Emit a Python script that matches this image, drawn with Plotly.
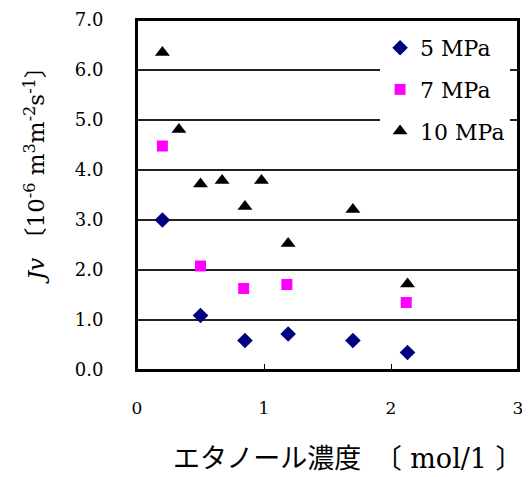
import plotly.graph_objects as go

# Data
x_5mpa = [0.20, 0.50, 0.85, 1.19, 1.70, 2.13]
y_5mpa = [3.00, 1.09, 0.59, 0.72, 0.59, 0.35]

x_7mpa = [0.20, 0.50, 0.84, 1.18, 2.12]
y_7mpa = [4.48, 2.08, 1.63, 1.71, 1.35]

x_10mpa = [0.20, 0.33, 0.50, 0.67, 0.98, 0.85, 1.19, 1.70, 2.13]
y_10mpa = [6.35, 4.81, 3.72, 3.79, 3.79, 3.27, 2.53, 3.21, 1.72]

series_names = ["5 MPa", "7 MPa", "10 MPa"]
x_ticks = [0, 1, 2, 3]
y_ticks = [0, 1, 2, 3, 4, 5, 6, 7]
y_tick_labels = ["0.0", "1.0", "2.0", "3.0", "4.0", "5.0", "6.0", "7.0"]

LATIN = "DejaVu Serif, Noto Sans CJK JP"

fig = go.Figure()
fig.add_trace(go.Scatter(x=x_5mpa, y=y_5mpa, mode="markers", name=series_names[0],
                         legendgroup="a",
                         marker=dict(symbol="diamond", size=12, color="#000080")))
fig.add_trace(go.Scatter(x=x_7mpa, y=y_7mpa, mode="markers", name=series_names[1],
                         legendgroup="b",
                         marker=dict(symbol="square", size=11, color="#FF00FF")))
fig.add_trace(go.Scatter(x=x_10mpa, y=y_10mpa, mode="markers", name=series_names[2],
                         legendgroup="c",
                         marker=dict(symbol="triangle-up", size=13, color="#000000")))

# page body has an 8px default margin: size the figure so it fits the window
fig.update_layout(
    width=522, height=469,
    margin=dict(l=129, r=12, t=12, b=107),
    plot_bgcolor="white", paper_bgcolor="white",
    font=dict(family=LATIN, color="black"),
    showlegend=True,
    legend=dict(x=0.638, y=0.98, xanchor="left", yanchor="top",
                bgcolor="white", borderwidth=0,
                font=dict(family=LATIN, size=22),
                traceorder="grouped", tracegroupgap=10,
                itemsizing="trace",
                entrywidth=120, entrywidthmode="pixels"),
    xaxis=dict(range=[0, 3], tickvals=x_ticks, ticktext=[str(v) for v in x_ticks],
               showgrid=False, zeroline=False, automargin=False,
               showline=True, linecolor="black", linewidth=2, mirror=True,
               ticks="outside", ticklen=22, tickcolor="rgba(0,0,0,0)",
               minor=dict(ticks="inside", tickvals=[1, 2], ticklen=6,
                          tickcolor="black", tickwidth=1, showgrid=False),
               tickfont=dict(size=17)),
    yaxis=dict(range=[0, 7], tickvals=y_ticks, ticktext=y_tick_labels,
               showgrid=True, gridcolor="#222222", gridwidth=2, zeroline=False,
               automargin=False,
               showline=True, linecolor="black", linewidth=2, mirror=True,
               ticks="outside", ticklen=28, tickcolor="rgba(0,0,0,0)",
               tickfont=dict(size=18)),
)

# plot frame
fig.add_shape(type="rect", xref="paper", yref="paper", x0=0, y0=0, x1=1, y1=1,
              line=dict(color="black", width=2), layer="above")

fig.add_annotation(text="<i>Jv</i> 〔10<sup>-6</sup> m<sup>3</sup>m<sup>-2</sup>s<sup>-1</sup>〕",
                   xref="paper", yref="paper", x=-0.268, y=0.574,
                   xanchor="center", yanchor="middle", textangle=-90,
                   showarrow=False, font=dict(family=LATIN, size=23))
fig.add_annotation(text="エタノール濃度　〔 mol/1 〕",
                   xref="paper", yref="paper", x=0.553, y=-0.254,
                   xanchor="center", yanchor="middle",
                   showarrow=False, font=dict(family=LATIN, size=27))

fig.write_html("out.html")
